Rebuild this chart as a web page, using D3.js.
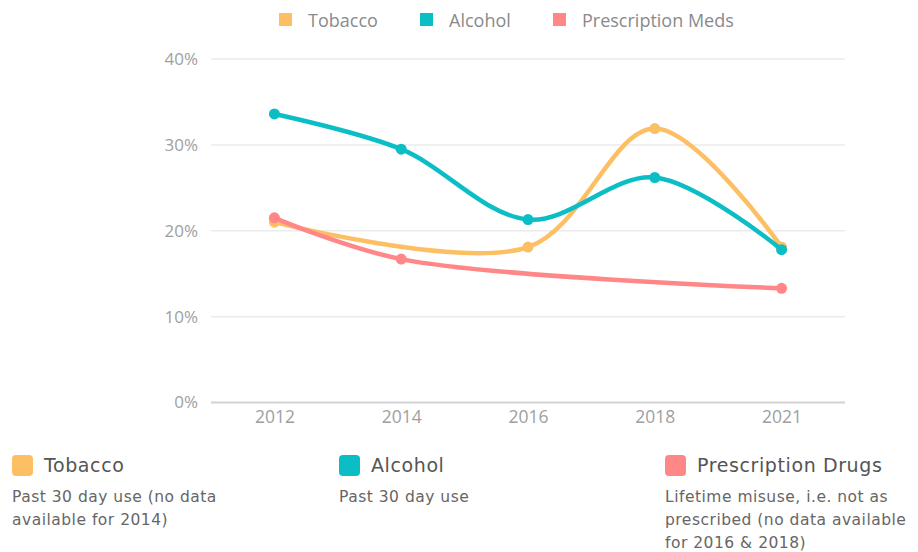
<!DOCTYPE html>
<html>
<head>
<meta charset="utf-8">
<script src="https://cdn.jsdelivr.net/npm/d3@7"></script>
<style>
  body { margin: 0; background: #fff; }
  svg { display: block; }
</style>
</head>
<body>
<div class="chart"></div>
<script>
const W = 918, H = 552;

// data (percent)
const years = ['2012', '2014', '2016', '2018', '2021'];
const tobacco = [21.0, null, 18.1, 31.9, 18.1];
const alcohol = [33.6, 29.5, 21.3, 26.2, 17.8];
const prescription = [21.5, 16.7, null, null, 13.3];
const yTicks = [0, 10, 20, 30, 40];

const topLegend = ['Tobacco', 'Alcohol', 'Prescription Meds'];
const bottomTitles = ['Tobacco', 'Alcohol', 'Prescription Drugs'];
const bottomNotes = [
  ['Past 30 day use (no data', 'available for 2014)'],
  ['Past 30 day use'],
  ['Lifetime misuse, i.e. not as', 'prescribed (no data available', 'for 2016 & 2018)']
];
const colors = ['#fdbf63', '#0bbec6', '#ff8787'];

const series = [tobacco, alcohol, prescription].map((vals, i) => ({
  color: colors[i],
  points: years.map((y, j) => ({year: y, value: vals[j]})).filter(d => d.value != null)
}));

const svg = d3.select('.chart')
  .append('svg')
  .attr('width', W)
  .attr('height', H);

const plot = {left: 211, right: 845, top: 59, bottom: 402.5};

const x = d3.scalePoint()
  .domain(years)
  .range([plot.left, plot.right])
  .padding(0.5);

const y = d3.scaleLinear()
  .domain([0, 40])
  .range([plot.bottom, plot.top]);

// gridlines
svg.append('g')
  .selectAll('line')
  .data(yTicks)
  .join('line')
  .attr('x1', plot.left)
  .attr('x2', plot.right)
  .attr('y1', d => y(d))
  .attr('y2', d => y(d))
  .attr('stroke', d => d === 0 ? '#d2d2d2' : '#ebebeb')
  .attr('stroke-width', d => d === 0 ? 2 : 1.5);

// y axis labels
const yAxis = d3.axisLeft(y)
  .tickValues(yTicks)
  .tickFormat(d => d + '%')
  .tickSize(0)
  .tickPadding(0);

svg.append('g')
  .attr('class', 'y-axis')
  .attr('transform', 'translate(198,0)')
  .call(yAxis)
  .call(g => g.select('.domain').remove())
  .selectAll('text')
  .attr('fill', '#a0a0a0')
  .style('font-family', 'Open Sans, sans-serif')
  .style('font-size', '17px');

// x axis labels
const xAxis = d3.axisBottom(x).tickSize(0).tickPadding(0);

svg.append('g')
  .attr('class', 'x-axis')
  .attr('transform', 'translate(0,411)')
  .call(xAxis)
  .call(g => g.select('.domain').remove())
  .selectAll('text')
  .attr('fill', '#a0a0a0')
  .style('font-family', 'Open Sans, sans-serif')
  .style('font-size', '17.5px');

// lines
const line = d3.line()
  .x(d => x(d.year))
  .y(d => y(d.value))
  .curve(d3.curveCatmullRom.alpha(0.5));

const groups = svg.append('g')
  .selectAll('g')
  .data(series)
  .join('g');

groups.append('path')
  .attr('d', d => line(d.points))
  .attr('fill', 'none')
  .attr('stroke', d => d.color)
  .attr('stroke-width', 4.5)
  .attr('stroke-linecap', 'round');

groups.selectAll('circle')
  .data(d => d.points.map(p => ({...p, color: d.color})))
  .join('circle')
  .attr('cx', d => x(d.year))
  .attr('cy', d => y(d.value))
  .attr('r', 5.5)
  .attr('fill', d => d.color);

// top legend
const topX = [279, 420, 553];
const tl = svg.append('g')
  .selectAll('g')
  .data(topLegend)
  .join('g')
  .attr('transform', (d, i) => `translate(${topX[i]},13)`);

tl.append('rect')
  .attr('width', 13)
  .attr('height', 13)
  .attr('fill', (d, i) => colors[i]);

tl.append('text')
  .attr('x', 29)
  .attr('y', 13.5)
  .attr('fill', '#8a8a8a')
  .style('font-family', 'Open Sans, sans-serif')
  .style('font-size', '18px')
  .text(d => d);

// bottom legend
const botX = [12, 339, 665];
const bl = svg.append('g')
  .selectAll('g')
  .data(bottomTitles)
  .join('g')
  .attr('transform', (d, i) => `translate(${botX[i]},455)`);

bl.append('rect')
  .attr('width', 21)
  .attr('height', 21)
  .attr('rx', 4)
  .attr('fill', (d, i) => colors[i]);

bl.append('text')
  .attr('x', 32)
  .attr('y', 17)
  .attr('fill', '#555')
  .style('font-family', 'DejaVu Sans, sans-serif')
  .style('font-size', '19px')
  .style('letter-spacing', '0.6px')
  .text(d => d);

bl.each(function(d, i) {
  d3.select(this).selectAll('text.note')
    .data(bottomNotes[i])
    .join('text')
    .attr('class', 'note')
    .attr('x', 0)
    .attr('y', (t, k) => 46.5 + k * 23)
    .attr('fill', '#666')
    .style('font-family', 'DejaVu Sans, sans-serif')
    .style('font-size', '15.5px')
    .style('letter-spacing', '0.5px')
    .text(t => t);
});
</script>
</body>
</html>
